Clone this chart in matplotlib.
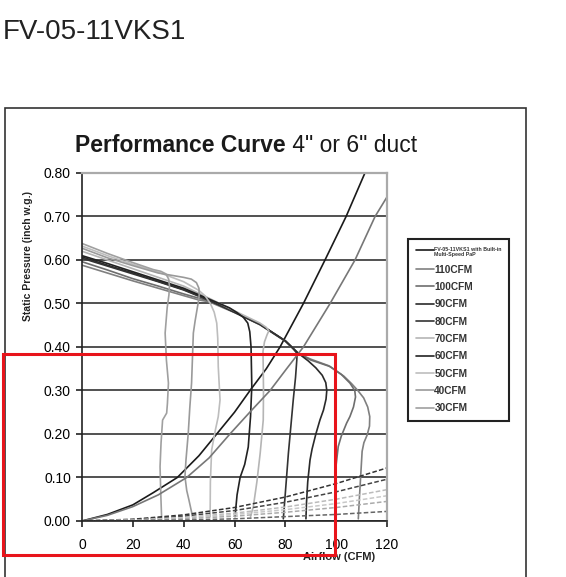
import matplotlib.pyplot as plt
from matplotlib.patches import Rectangle

plt.rcParams['font.family'] = ['Liberation Sans', 'DejaVu Sans']

# fan curves, airflow (CFM) vs static pressure (inch w.g.)
cfm110_x = [0, 10, 20, 30, 40, 46, 50, 60, 70, 80, 85, 90, 97, 103, 106, 108.5, 110.8, 112.4, 113.2, 113.1, 112.2, 110.9, 110.2, 110, 109.6, 109.2, 108.7]
cfm110_y = [0.588, 0.57, 0.552, 0.535, 0.518, 0.508, 0.504, 0.479, 0.451, 0.413, 0.385, 0.372, 0.357, 0.333, 0.316, 0.300, 0.283, 0.262, 0.24, 0.218, 0.198, 0.18, 0.16, 0.14, 0.10, 0.06, 0.005]
cfm100_x = [0, 10, 20, 30, 40, 46, 50, 60, 70, 80, 85, 90, 97.6, 102, 105.4, 107.3, 107.6, 106.8, 105.4, 104.1, 102, 100.8, 100, 99.5, 99.7, 99.9]
cfm100_y = [0.596, 0.577, 0.557, 0.54, 0.522, 0.512, 0.506, 0.48, 0.452, 0.414, 0.386, 0.37, 0.355, 0.337, 0.317, 0.30, 0.285, 0.262, 0.24, 0.225, 0.195, 0.171, 0.13, 0.079, 0.04, 0.005]
cfm90_x = [0, 10, 20, 30, 40, 50, 60, 70, 80, 85, 89, 92, 94.5, 95.9, 96.3, 96, 95, 93.6, 92, 90.5, 89.7, 88.8, 88.3, 88.1]
cfm90_y = [0.607, 0.588, 0.57, 0.551, 0.532, 0.508, 0.48, 0.452, 0.414, 0.386, 0.368, 0.352, 0.335, 0.318, 0.30, 0.28, 0.255, 0.232, 0.20, 0.165, 0.14, 0.09, 0.04, 0.005]
cfm80_x = [0, 10, 20, 30, 40, 50, 60, 70, 80, 83, 84.6, 84.5, 84, 83.1, 82.2, 81.2, 80.2, 79.2]
cfm80_y = [0.604, 0.586, 0.568, 0.55, 0.531, 0.507, 0.48, 0.452, 0.414, 0.397, 0.385, 0.37, 0.33, 0.278, 0.22, 0.156, 0.08, 0.005]
cfm70_x = [0, 10, 20, 30, 40, 50, 60, 70, 72.5, 73.5, 72.8, 71.8, 71.2, 71.3, 71.4, 71.3, 70.1, 68.8, 67.4, 66.3]
cfm70_y = [0.62, 0.6, 0.58, 0.56, 0.54, 0.512, 0.483, 0.455, 0.445, 0.437, 0.428, 0.412, 0.39, 0.35, 0.30, 0.232, 0.156, 0.09, 0.033, 0.01]
cfm60_x = [0, 10, 20, 30, 40, 50, 58, 61, 63.5, 65.2, 66, 66.5, 66.8, 66.3, 65.4, 64, 62.2, 61, 60.2]
cfm60_y = [0.61, 0.592, 0.573, 0.554, 0.535, 0.51, 0.49, 0.479, 0.468, 0.455, 0.435, 0.40, 0.31, 0.24, 0.17, 0.13, 0.10, 0.06, 0.01]
cfm50_x = [0, 10, 20, 30, 40, 46, 48.5, 50.5, 52, 53, 53.4, 53.6, 54.3, 53.6, 52.5, 51, 50.5, 50.4]
cfm50_y = [0.632, 0.61, 0.59, 0.572, 0.55, 0.53, 0.517, 0.50, 0.48, 0.455, 0.42, 0.355, 0.278, 0.24, 0.21, 0.163, 0.09, 0.01]
cfm40_x = [0, 10, 20, 30, 40, 43, 45, 46, 46.1, 45.8, 44.5, 43.8, 43.1, 42.4, 41.8, 40.9, 40.5, 41.2, 42, 43.5]
cfm40_y = [0.627, 0.605, 0.587, 0.57, 0.56, 0.556, 0.548, 0.535, 0.52, 0.505, 0.46, 0.432, 0.317, 0.26, 0.202, 0.14, 0.102, 0.07, 0.05, 0.01]
cfm30_x = [0, 10, 20, 28, 31, 33, 34.1, 34.4, 34.2, 33.5, 32.7, 33.2, 34, 33.6, 33.3, 31.7, 31.1, 30.7, 31, 31.3]
cfm30_y = [0.638, 0.615, 0.594, 0.578, 0.574, 0.568, 0.556, 0.54, 0.52, 0.49, 0.432, 0.37, 0.317, 0.27, 0.248, 0.232, 0.18, 0.125, 0.06, 0.01]

# system curves
sys_black_x = [0, 10, 20, 28, 37.5, 46, 53, 60, 66.1, 72.5, 77.9, 87.1, 95.6, 103.9, 111.3]
sys_black_y = [0, 0.015, 0.037, 0.065, 0.10, 0.15, 0.20, 0.25, 0.30, 0.35, 0.40, 0.50, 0.60, 0.70, 0.80]
sys_gray_x = [0, 10, 20, 30, 41.2, 50, 58.2, 66, 74, 80.5, 87.1, 97.6, 107.4, 115.3, 120]
sys_gray_y = [0, 0.013, 0.033, 0.06, 0.10, 0.145, 0.20, 0.25, 0.30, 0.35, 0.40, 0.50, 0.60, 0.70, 0.745]

# dashed duct curves
duct_x = [0, 20, 40, 60, 80, 100, 120]
duct_1 = [0, 0.004, 0.014, 0.031, 0.055, 0.086, 0.122]
duct_2 = [0, 0.003, 0.011, 0.024, 0.043, 0.067, 0.096]
duct_3 = [0, 0.002, 0.008, 0.018, 0.032, 0.050, 0.072]
duct_4 = [0, 0.002, 0.007, 0.015, 0.026, 0.040, 0.058]
duct_5 = [0, 0.001, 0.005, 0.011, 0.020, 0.031, 0.045]
duct_6 = [0, 0.001, 0.002, 0.005, 0.010, 0.015, 0.022]

fig = plt.figure(figsize=(5.66, 5.77), dpi=100)
ax = fig.add_axes([0.1449, 0.0971, 0.5389, 0.6031])

lw = 1.2
kw = dict(lw=lw, solid_joinstyle='round', solid_capstyle='round')
ax.plot(sys_black_x, sys_black_y, color='#1a1a1a', label='FV-05-11VKS1 with Built-in\nMulti-Speed PaP', **kw)
ax.plot(cfm110_x, cfm110_y, color='#808080', label='110CFM', **kw)
ax.plot(cfm100_x, cfm100_y, color='#6e6e6e', label='100CFM', **kw)
ax.plot(cfm90_x, cfm90_y, color='#2a2a2a', label='90CFM', **kw)
ax.plot(cfm80_x, cfm80_y, color='#333333', label='80CFM', **kw)
ax.plot(cfm70_x, cfm70_y, color='#b5b5b5', label='70CFM', **kw)
ax.plot(cfm60_x, cfm60_y, color='#222222', label='60CFM', **kw)
ax.plot(cfm50_x, cfm50_y, color='#bdbdbd', label='50CFM', **kw)
ax.plot(cfm40_x, cfm40_y, color='#9a9a9a', label='40CFM', **kw)
ax.plot(cfm30_x, cfm30_y, color='#a0a0a0', label='30CFM', **kw)
ax.plot(sys_gray_x, sys_gray_y, color='#777777', **kw)

duct_colors = ['#333333', '#444444', '#bbbbbb', '#c8c8c8', '#aaaaaa', '#666666']
for d, c in zip([duct_1, duct_2, duct_3, duct_4, duct_5, duct_6], duct_colors):
    ax.plot(duct_x, d, color=c, lw=1.1, dashes=(3, 1.5))

ax.set_xlim(0, 120)
ax.set_ylim(0, 0.8)
ax.set_xticks(range(0, 121, 20))
ax.set_yticks([0, 0.1, 0.2, 0.3, 0.4, 0.5, 0.6, 0.7, 0.8])
ax.set_yticklabels(['%.2f' % v for v in ax.get_yticks()])
ax.tick_params(axis='both', labelsize=10, length=4, width=1.2, color='#222222')
ax.tick_params(axis='y', pad=4)
ax.tick_params(axis='x', pad=8)
ax.yaxis.grid(True, color='#333333', lw=1.2)
ax.set_axisbelow(True)
for s in ['left', 'bottom']:
    ax.spines[s].set_color('#222222')
    ax.spines[s].set_linewidth(1.2)
for s in ['top', 'right']:
    ax.spines[s].set_color('#aaaaaa')
    ax.spines[s].set_linewidth(1.6)

fig.text(28 / 566, 1 - 256 / 577, 'Static Pressure (inch w.g.)', rotation=90, fontsize=7.5,
         fontweight='bold', ha='center', va='center', color='#222222')
fig.text(339 / 566, 1 - 557 / 577, 'Airflow (CFM)', fontsize=8, fontweight='bold',
         ha='center', va='center', color='#222222')

t1 = fig.text(75 / 566, 1 - 157 / 577, 'Performance Curve', fontsize=16.5, fontweight='bold',
              ha='left', va='bottom', color='#1a1a1a')
ax.annotate(' 4" or 6" duct', xy=(1, 0), xycoords=t1, fontsize=16.5, ha='left', va='bottom',
            color='#1a1a1a', annotation_clip=False)

fig.text(3 / 566, 1 - 39 / 577, 'FV-05-11VKS1', fontsize=20, ha='left', va='baseline', color='#222222')

leg = ax.legend(loc='upper left', bbox_to_anchor=(408 / 566, 1 - 239 / 577), bbox_transform=fig.transFigure,
                borderaxespad=0, fancybox=False, framealpha=1, edgecolor='#222222',
                handlelength=1.8, handletextpad=0.05, labelspacing=0.72, borderpad=0.75,
                prop={'weight': 'bold', 'size': 7.3})
leg.get_frame().set_linewidth(1.5)
for t in leg.get_texts():
    t.set_color('#333333')
leg.get_texts()[0].set_fontsize(3.8)

fig.patches.append(Rectangle((5 / 566, -0.01), 521 / 566, 1.01 - 108 / 577, transform=fig.transFigure,
                             fill=False, edgecolor='#333333', lw=1.2))
fig.patches.append(Rectangle((3 / 566, 1 - 555 / 577), 332 / 566, 201 / 577, transform=fig.transFigure,
                             fill=False, edgecolor='#e8141b', lw=2.2, zorder=10))

plt.savefig('out.png', dpi=100)
